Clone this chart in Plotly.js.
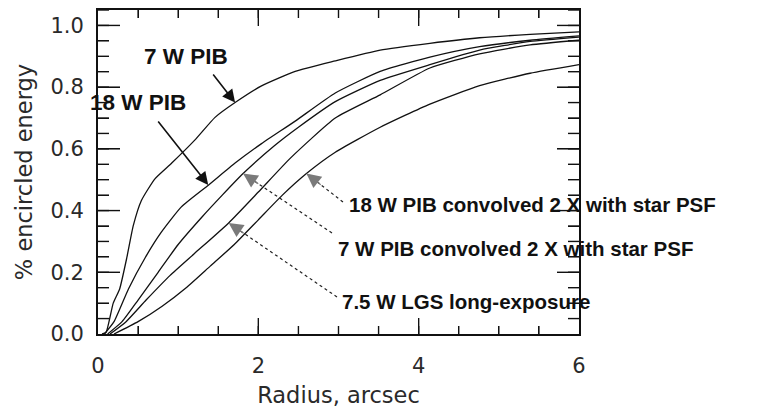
<!DOCTYPE html>
<html>
<head>
<meta charset="utf-8">
<script src="https://cdn.plot.ly/plotly-3.0.1.min.js"></script>
<style>html,body{margin:0;padding:0;background:#fff;}#chart{width:781px;height:409px;}</style>
</head>
<body>
<div id="chart"></div>
<script>
// ---- data ----
const radius7wPib = [0.05,0.1,0.19,0.27,0.36,0.44,0.54,0.71,0.92,1.21,1.46,1.71,2.04,2.46,2.96,3.52,4.14,4.76,5.39,6.0];
const ee7wPib     = [0,0.005,0.1,0.146,0.248,0.351,0.432,0.503,0.554,0.629,0.702,0.75,0.804,0.851,0.885,0.92,0.942,0.96,0.971,0.979];

const radius18wPib = [0.08,0.2,0.38,0.59,0.79,1.04,1.38,1.71,2.04,2.46,2.96,3.52,4.14,4.76,5.39,6.0];
const ee18wPib     = [0,0.04,0.146,0.248,0.33,0.412,0.483,0.554,0.617,0.69,0.781,0.851,0.897,0.931,0.952,0.966];

const radius7wConv = [0.12,0.3,0.5,0.75,1.0,1.3,1.55,1.81,2.2,2.5,2.96,3.52,4.14,4.76,5.39,6.0];
const ee7wConv     = [0,0.04,0.11,0.2,0.29,0.38,0.45,0.52,0.61,0.67,0.753,0.822,0.873,0.92,0.948,0.962];

const radiusLgs = [0.15,0.35,0.6,0.9,1.2,1.63,2.0,2.4,2.96,3.52,4.14,4.76,5.39,6.0];
const eeLgs     = [0,0.04,0.11,0.19,0.26,0.36,0.46,0.57,0.70,0.775,0.862,0.908,0.937,0.952];

const radius18wConv = [0.2,0.5,0.8,1.1,1.4,1.7,2.0,2.3,2.6,2.96,3.52,4.14,4.76,5.39,6.0];
const ee18wConv     = [0,0.04,0.09,0.15,0.22,0.29,0.37,0.45,0.52,0.589,0.67,0.745,0.805,0.845,0.873];

const xTickStep = 2, xMinorStep = 0.5;
const yTickStep = 0.2, yMinorStep = 0.05;

// ---- layout geometry ----
const W = 781, H = 409;
const M = {l: 98, r: 202, t: 10, b: 75};
const xRange = [0, 6], yRange = [0, 1.05];
const plotW = W - M.l - M.r, plotH = H - M.t - M.b;
const px2x = X => xRange[0] + (X - M.l) / plotW * (xRange[1] - xRange[0]);
const px2y = Y => yRange[0] + (H - M.b - Y) / plotH * (yRange[1] - yRange[0]);
const px2paperX = X => (X - M.l) / plotW;
const px2paperY = Y => (H - M.b - Y) / plotH;
const x2px = x => M.l + (x - xRange[0]) / (xRange[1] - xRange[0]) * plotW;
const y2px = y => H - M.b - (y - yRange[0]) / (yRange[1] - yRange[0]) * plotH;
const xPerPx = (xRange[1] - xRange[0]) / plotW;
const yPerPx = (yRange[1] - yRange[0]) / plotH;

const lineStyle = {color: '#111', width: 1.3, shape: 'spline', smoothing: 0.5};
const mk = (x, y, name) => ({x, y, name, type: 'scatter', mode: 'lines', line: lineStyle, hoverinfo: 'skip'});

// inside tick marks on all four sides, at the axis tick steps (drawn as one line trace)
const tickX = [], tickY = [];
function addXTicks(step, lenPx) {
  const n = Math.round((xRange[1] - xRange[0]) / step);
  const len = lenPx * yPerPx;
  for (let i = 1; i < n; i++) {
    const v = xRange[0] + i * step;
    tickX.push(v, v, null, v, v, null);
    tickY.push(yRange[0], yRange[0] + len, null, yRange[1], yRange[1] - len, null);
  }
}
function addYTicks(step, lenPx) {
  const n = Math.floor((yRange[1] - yRange[0]) / step + 1e-9);
  const len = lenPx * xPerPx;
  for (let i = 1; i <= n; i++) {
    const v = yRange[0] + i * step;
    tickX.push(xRange[0], xRange[0] + len, null, xRange[1], xRange[1] - len, null);
    tickY.push(v, v, null, v, v, null);
  }
}
addXTicks(xMinorStep, 8);
addXTicks(xTickStep, 16);
addYTicks(yMinorStep, 11);
addYTicks(yTickStep, 22);

const traces = [
  mk(radius7wPib, ee7wPib, '7 W PIB'),
  mk(radius18wPib, ee18wPib, '18 W PIB'),
  mk(radius7wConv, ee7wConv, '7 W PIB convolved 2 X with star PSF'),
  mk(radiusLgs, eeLgs, '7.5 W LGS long-exposure'),
  mk(radius18wConv, ee18wConv, '18 W PIB convolved 2 X with star PSF'),
  {x: tickX, y: tickY, type: 'scatter', mode: 'lines', line: {color: '#111', width: 1.4}, connectgaps: false, hoverinfo: 'skip', name: 'ticks'}
];

const labelFont = {family: 'Liberation Sans, Arial, sans-serif', size: 20.5, color: '#111', weight: 'bold'};
const bigLabelFont = Object.assign({}, labelFont, {size: 22.5});
const annotations = [];
const shapes = [];

function textLabel(text, leftX, midY, font) {
  annotations.push({text, x: px2paperX(leftX), y: px2paperY(midY), xref: 'paper', yref: 'paper',
    xanchor: 'left', yanchor: 'middle', showarrow: false, font: font || labelFont, borderpad: 0});
}
function solidArrow(tipR, tipEE, tailX, tailY) {
  annotations.push({text: '', x: tipR, y: tipEE, xref: 'x', yref: 'y',
    ax: px2x(tailX), ay: px2y(tailY), axref: 'x', ayref: 'y',
    showarrow: true, arrowhead: 2, arrowsize: 1.6, arrowwidth: 1.6, arrowcolor: '#111'});
}
function hatchedArrow(tipR, tipEE, tailX, tailY) {
  shapes.push({type: 'line', xref: 'x', yref: 'y', x0: px2x(tailX), y0: px2y(tailY), x1: tipR, y1: tipEE,
    line: {color: '#222', width: 1.2, dash: 'dot'}});
  const tx = x2px(tipR), ty = y2px(tipEE);
  const dx = tailX - tx, dy = tailY - ty, len = Math.hypot(dx, dy);
  annotations.push({text: '', x: tipR, y: tipEE, xref: 'x', yref: 'y',
    ax: dx / len * 20, ay: dy / len * 20,
    showarrow: true, arrowhead: 2, arrowsize: 2.4, arrowwidth: 1.2, arrowcolor: '#7a7a7a'});
}

textLabel('7 W PIB', 143, 57, bigLabelFont);
textLabel('18 W PIB', 89, 102, bigLabelFont);
textLabel('18 W PIB convolved 2 X with star PSF', 348, 204);
textLabel('7 W PIB convolved 2 X with star PSF', 337, 249);
textLabel('7.5 W LGS long-exposure', 341, 301);

solidArrow(1.71, 0.75, 212, 73);
solidArrow(1.375, 0.483, 157, 120);
hatchedArrow(2.6, 0.52, 343, 202);
hatchedArrow(1.81, 0.52, 332, 233);
hatchedArrow(1.63, 0.36, 337, 297);

const tickFont = {family: 'DejaVu Sans, sans-serif', size: 21, color: '#2a2a2a'};
const titleFont = {family: 'DejaVu Sans, sans-serif', size: 22.5, color: '#2a2a2a'};

const axisCommon = {
  ticks: 'inside', tickcolor: '#111',
  showline: true, linecolor: '#111', linewidth: 2, mirror: 'ticks',
  showgrid: false, zeroline: false, tickfont: tickFont
};

const layout = {
  width: W, height: H,
  margin: M,
  showlegend: false,
  xaxis: Object.assign({}, axisCommon, {
    range: xRange, dtick: xTickStep, tickformat: 'd', ticklen: 16,
    minor: {dtick: xMinorStep, ticks: 'inside', ticklen: 8, tickcolor: '#111'},
    ticklabelstandoff: 12,
    title: {text: 'Radius, arcsec', font: titleFont, standoff: 10}
  }),
  yaxis: Object.assign({}, axisCommon, {
    range: yRange, dtick: yTickStep, tickformat: '.1f', ticklen: 22,
    minor: {dtick: yMinorStep, ticks: 'inside', ticklen: 11, tickcolor: '#111'},
    ticklabelstandoff: 8,
    title: {text: '% encircled energy', font: titleFont, standoff: 12}
  }),
  annotations, shapes
};

Plotly.newPlot('chart', traces, layout, {displayModeBar: false});
</script>
</body>
</html>
